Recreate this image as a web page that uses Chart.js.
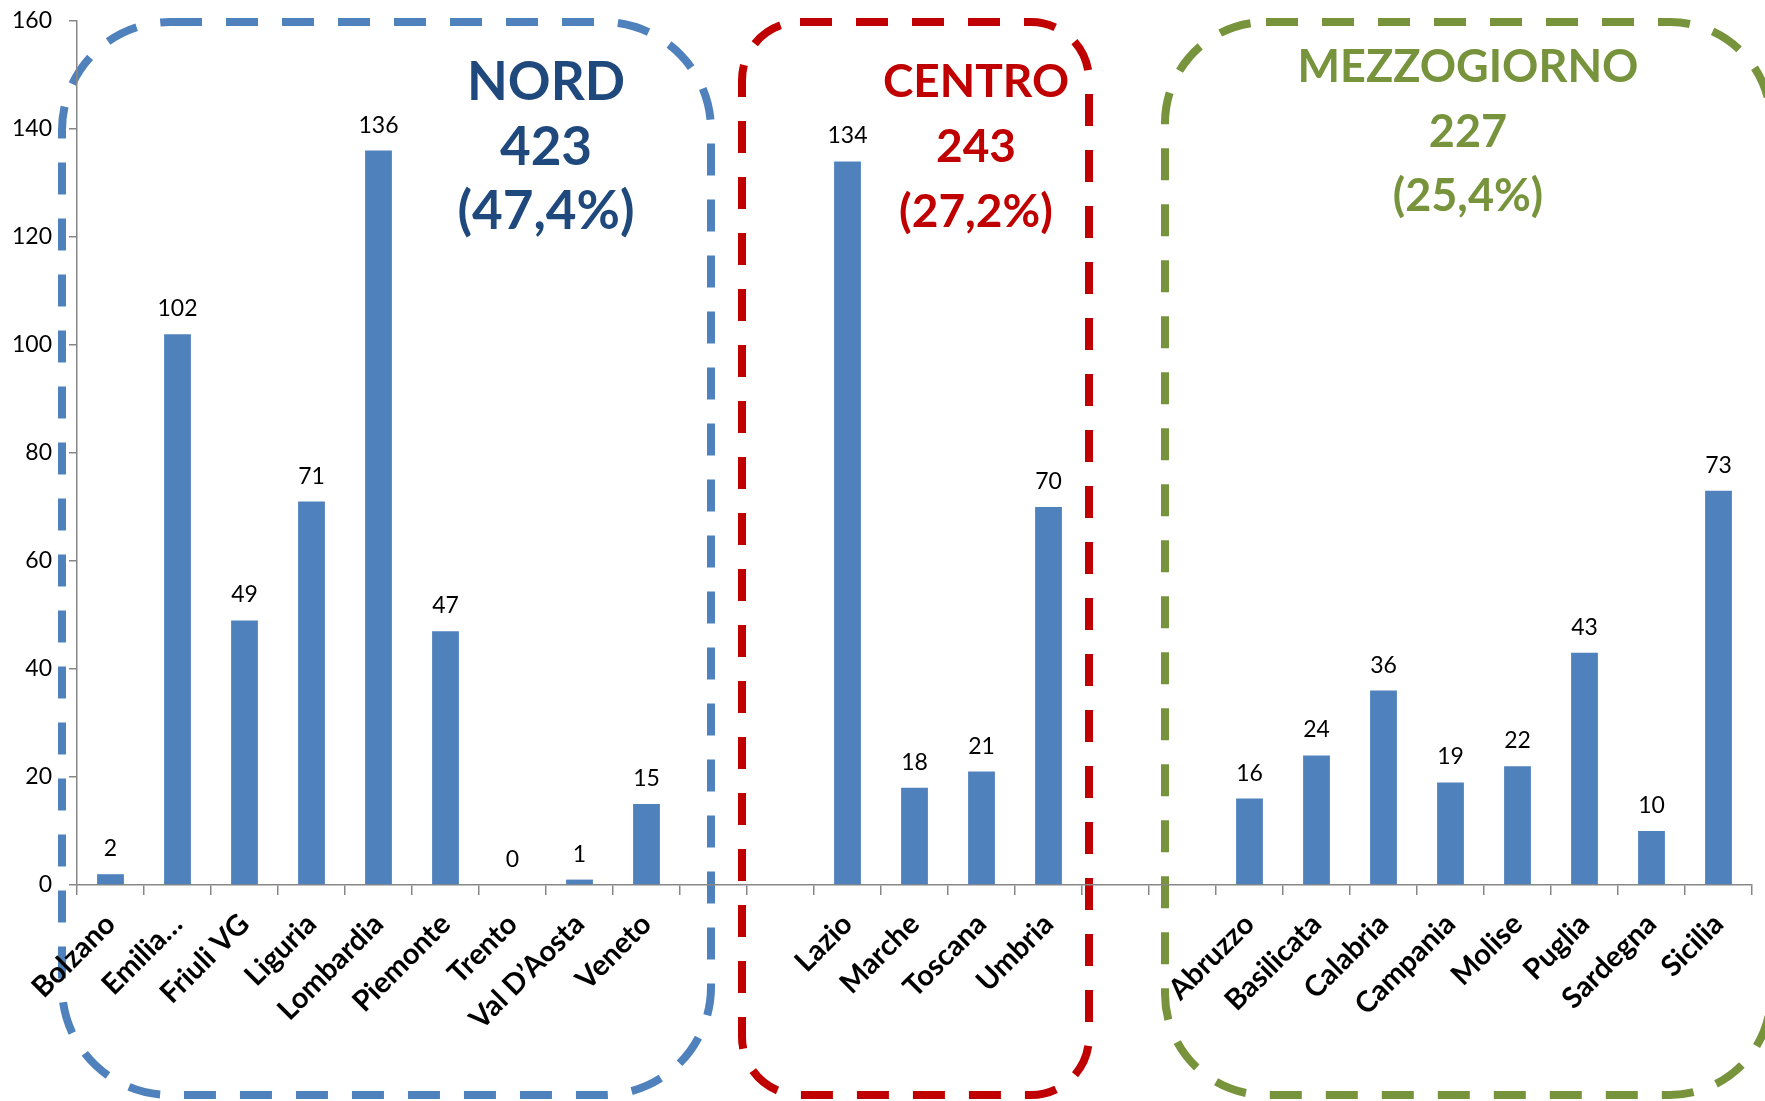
<!DOCTYPE html>
<html>
<head>
<meta charset="utf-8">
<script src="https://cdn.jsdelivr.net/npm/chart.js@4/dist/chart.umd.min.js"></script>
<style>
  html, body { margin: 0; padding: 0; background: #ffffff; overflow: hidden; }
  canvas { display: block; }
</style>
</head>
<body>
<canvas id="chart" width="1765" height="1101"></canvas>
<script>
// Regions and counts, grouped by macro-area
const nordRegions = ['Bolzano', 'Emilia…', 'Friuli VG', 'Liguria', 'Lombardia', 'Piemonte', 'Trento', 'Val D’Aosta', 'Veneto'];
const nordValues = [2, 102, 49, 71, 136, 47, 0, 1, 15];

const centroRegions = ['Lazio', 'Marche', 'Toscana', 'Umbria'];
const centroValues = [134, 18, 21, 70];

const sudRegions = ['Abruzzo', 'Basilicata', 'Calabria', 'Campania', 'Molise', 'Puglia', 'Sardegna', 'Sicilia'];
const sudValues = [16, 24, 36, 19, 22, 43, 10, 73];

// Macro-area headings
const areaNames = ['NORD', 'CENTRO', 'MEZZOGIORNO'];
const areaTotals = ['423', '243', '227'];
const areaShares = ['(47,4%)', '(27,2%)', '(25,4%)'];

// Value axis
const yMin = 0;
const yMax = 160;
const yStep = 20;

// Two blank slots separate each macro-area on the category axis
const gap = ['', ''];
const gapValues = [null, null];
const labels = [...nordRegions, ...gap, ...centroRegions, ...gap, ...sudRegions];
const values = [...nordValues, ...gapValues, ...centroValues, ...gapValues, ...sudValues];

const FONT = 'Lato, "Open Sans", sans-serif';
const AXIS_GREY = '#878787';

// Dashed rounded frames around each macro-area
const frames = [
  { x1: 62,   y1: 22, x2: 711,  y2: 1095, r: 108, color: '#4F81BD' },
  { x1: 742,  y1: 22, x2: 1089, y2: 1095, r: 58,  color: '#C00000' },
  { x1: 1165, y1: 22, x2: 1771, y2: 1095, r: 101, color: '#77933C' }
];

// Heading blocks: centre x, baselines, colour, font size
const headings = [
  { x: 546,  base: [100, 165, 229], color: '#1F497D', size: 53 },
  { x: 976,  base: [97, 162, 227],  color: '#C00000', size: 46 },
  { x: 1468, base: [82, 147, 211],  color: '#77933C', size: 45 }
];

const framePlugin = {
  id: 'areaFrames',
  beforeDraw(chart) {
    const ctx = chart.ctx;
    frames.forEach(f => {
      ctx.save();
      ctx.strokeStyle = f.color;
      ctx.lineWidth = 8;
      ctx.setLineDash([32, 24]);
      ctx.beginPath();
      ctx.roundRect(f.x1, f.y1, f.x2 - f.x1, f.y2 - f.y1, f.r);
      ctx.stroke();
      ctx.restore();
    });
  },
  afterDraw(chart) {
    const ctx = chart.ctx;
    headings.forEach((h, i) => {
      ctx.save();
      ctx.fillStyle = h.color;
      ctx.font = 'bold ' + h.size + 'px ' + FONT;
      ctx.textAlign = 'center';
      ctx.textBaseline = 'alphabetic';
      ctx.fillText(areaNames[i], h.x, h.base[0]);
      ctx.fillText(areaTotals[i], h.x, h.base[1]);
      ctx.fillText(areaShares[i], h.x, h.base[2]);
      ctx.restore();
    });
  }
};

// Value printed above every bar
const valueLabelPlugin = {
  id: 'valueLabels',
  afterDatasetsDraw(chart) {
    const ctx = chart.ctx;
    const meta = chart.getDatasetMeta(0);
    ctx.save();
    ctx.fillStyle = '#000000';
    ctx.font = '23px ' + FONT;
    ctx.textAlign = 'center';
    ctx.textBaseline = 'alphabetic';
    meta.data.forEach((bar, i) => {
      const v = chart.data.datasets[0].data[i];
      if (v === null || v === undefined) return;
      ctx.fillText(String(v), bar.x, bar.y - 18);
    });
    ctx.restore();
  }
};

new Chart(document.getElementById('chart'), {
  type: 'bar',
  data: {
    labels: labels,
    datasets: [{
      data: values,
      backgroundColor: '#4F81BD',
      borderWidth: 0,
      categoryPercentage: 1.0,
      barPercentage: 0.4
    }]
  },
  options: {
    responsive: false,
    animation: false,
    devicePixelRatio: 1,
    layout: { padding: { top: 21, right: 13, left: 0, bottom: 0 } },
    plugins: {
      legend: { display: false },
      tooltip: { enabled: false }
    },
    scales: {
      x: {
        offset: true,
        grid: {
          display: true,
          offset: true,
          drawOnChartArea: false,
          drawTicks: true,
          tickLength: 10,
          color: AXIS_GREY,
          lineWidth: 1.5
        },
        border: { display: true, color: AXIS_GREY, width: 1.5 },
        ticks: {
          autoSkip: false,
          minRotation: 45,
          maxRotation: 45,
          color: '#000000',
          padding: 12,
          font: { family: FONT, weight: 'bold', size: 29 }
        },
        afterFit(scale) {
          scale.height = 216;
          scale.paddingLeft = 0;
          scale.paddingRight = 0;
        }
      },
      y: {
        min: yMin,
        max: yMax,
        ticks: {
          stepSize: yStep,
          color: '#000000',
          padding: 17,
          font: { family: FONT, size: 23 }
        },
        grid: {
          display: true,
          drawOnChartArea: false,
          drawTicks: true,
          tickLength: 8,
          color: AXIS_GREY,
          lineWidth: 1.5
        },
        border: { display: true, color: AXIS_GREY, width: 1.5 },
        afterFit(scale) {
          scale.width = 77;
          scale.paddingTop = 0;
          scale.paddingBottom = 0;
        }
      }
    }
  },
  plugins: [framePlugin, valueLabelPlugin]
});
</script>
</body>
</html>
